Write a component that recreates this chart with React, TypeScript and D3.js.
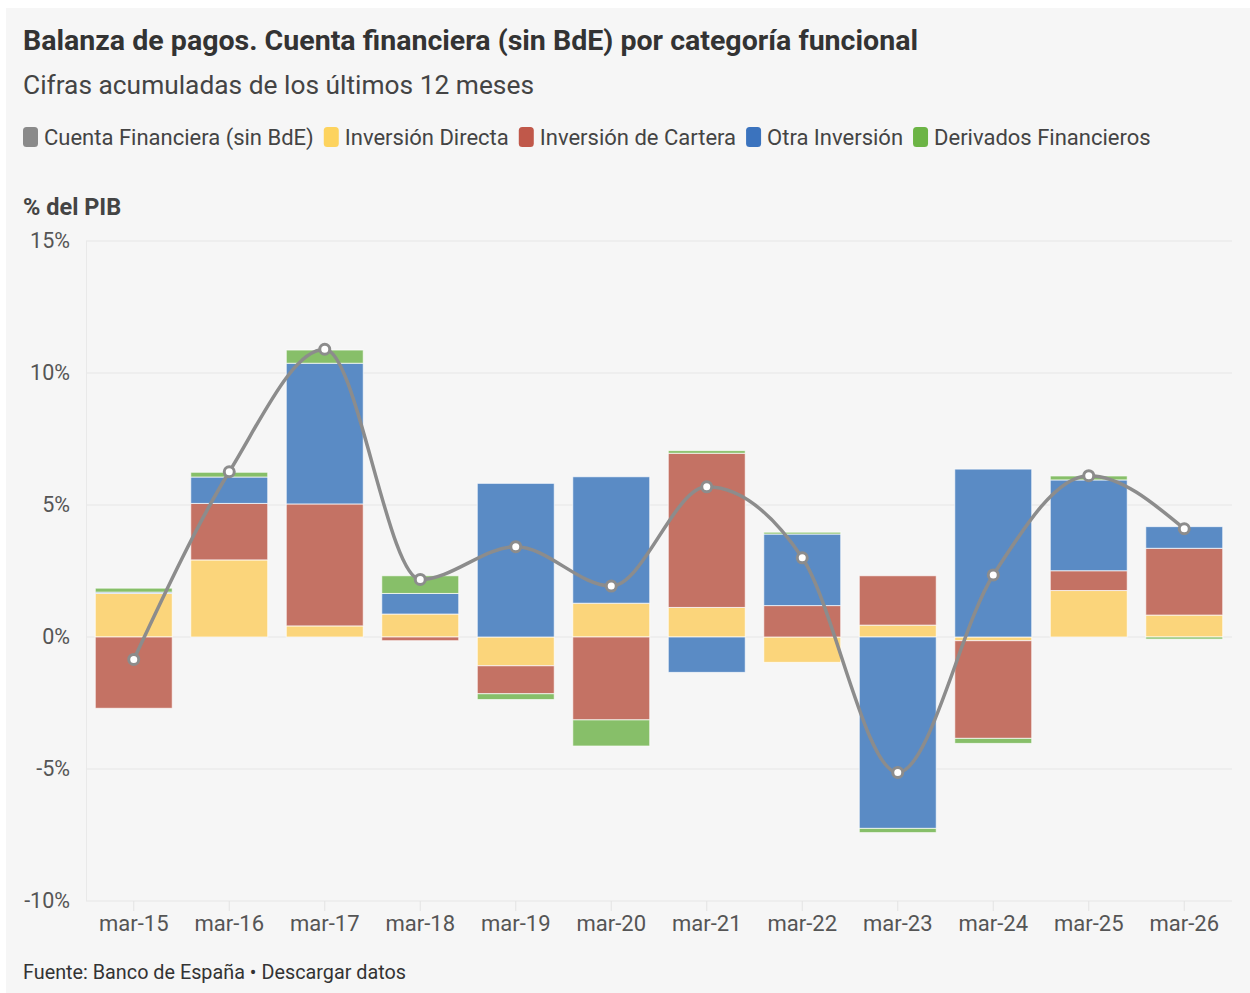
import React, { useEffect, useRef } from "react";
import * as d3 from "d3";

const categories = ["mar-15","mar-16","mar-17","mar-18","mar-19","mar-20","mar-21","mar-22","mar-23","mar-24","mar-25","mar-26"];
const seriesNames = ["Cuenta Financiera (sin BdE)","Inversión Directa","Inversión de Cartera","Otra Inversión","Derivados Financieros"];
const cuentaFinanciera = [-0.85, 6.26, 10.9, 2.18, 3.42, 1.93, 5.69, 3.0, -5.13, 2.35, 6.11, 4.10];
const inversionDirecta = [1.65, 2.92, 0.42, 0.87, -1.09, 1.28, 1.12, -0.96, 0.45, -0.14, 1.76, 0.83];
const inversionCartera = [-2.7, 2.14, 4.62, -0.14, -1.06, -3.14, 5.84, 1.19, 1.87, -3.70, 0.75, 2.53];
const otraInversion = [0.05, 1.0, 5.33, 0.78, 5.82, 4.79, -1.34, 2.71, -7.25, 6.36, 3.44, 0.82];
const derivados = [0.15, 0.18, 0.5, 0.67, -0.22, -0.99, 0.1, 0.07, -0.16, -0.19, 0.15, -0.08];
const yTicks = [-10, -5, 0, 5, 10, 15];

const legendColors = ["#8a8a8a", "#fdd35e", "#c0584a", "#3b73be", "#6cb445"];
const barColors = ["#fbd57b", "#c47264", "#5a8bc5", "#87bf69"];

export default function App() {
  const ref = useRef<SVGSVGElement | null>(null);
  useEffect(() => {
    const svg = d3.select(ref.current);
    svg.selectAll("*").remove();
    const font = "Roboto, 'Noto Sans', sans-serif";
    svg.append("rect").attr("x", 6).attr("y", 8).attr("width", 1244).attr("height", 985).attr("fill", "#f6f6f6");

    const fit = (t: any, w: number) => {
      const n = t.node() as SVGTextElement;
      const cur = n.getComputedTextLength();
      if (cur > 0) t.attr("textLength", w).attr("lengthAdjust", "spacingAndGlyphs");
    };

    const title = svg.append("text").attr("x", 23).attr("y", 50).attr("font-family", font).attr("font-weight", 700)
      .attr("font-size", 27.5).attr("fill", "#333")
      .text("Balanza de pagos. Cuenta financiera (sin BdE) por categoría funcional");
    fit(title, 895);
    const sub = svg.append("text").attr("x", 23).attr("y", 94).attr("font-family", font)
      .attr("font-size", 25.5).attr("fill", "#444")
      .text("Cifras acumuladas de los últimos 12 meses");
    fit(sub, 511);

    // legend
    let lx = 23;
    seriesNames.forEach((name, i) => {
      svg.append("rect").attr("x", lx).attr("y", 127).attr("width", 15).attr("height", 20).attr("rx", 3.5)
        .attr("fill", legendColors[i]);
      const t = svg.append("text").attr("x", lx + 21).attr("y", 145).attr("font-family", font)
        .attr("font-size", 22).attr("fill", "#444").text(name);
      const w = (t.node() as SVGTextElement).getComputedTextLength();
      lx += 21 + w + 10;
    });

    svg.append("text").attr("x", 23).attr("y", 215).attr("font-family", font).attr("font-weight", 700)
      .attr("font-size", 23.5).attr("fill", "#444").text("% del PIB");

    const y = d3.scaleLinear().domain([-10, 15]).range([901, 241]);
    const x = d3.scaleBand().domain(categories).range([86, 1232]).paddingInner(0.194).paddingOuter(0.097);

    // grid
    svg.append("g").selectAll("line").data(yTicks).join("line")
      .attr("x1", 86).attr("x2", 1232).attr("y1", d => y(d)).attr("y2", d => y(d))
      .attr("stroke", "#e6e6e6").attr("stroke-width", 1);
    svg.append("line").attr("x1", 86.5).attr("x2", 86.5).attr("y1", y(15)).attr("y2", y(-10))
      .attr("stroke", "#e9e9e9");
    svg.append("g").selectAll("text").data(yTicks).join("text")
      .attr("x", 70).attr("y", d => y(d) + 7).attr("text-anchor", "end")
      .attr("font-family", font).attr("font-size", 21.5).attr("fill", "#555")
      .text(d => `${d}%`);

    // x ticks
    svg.append("g").selectAll("line").data(categories).join("line")
      .attr("x1", d => x(d)! + x.bandwidth() / 2).attr("x2", d => x(d)! + x.bandwidth() / 2)
      .attr("y1", 901).attr("y2", 911).attr("stroke", "#e3e3e3");
    svg.append("g").selectAll("text").data(categories).join("text")
      .attr("x", d => x(d)! + x.bandwidth() / 2).attr("y", 931).attr("text-anchor", "middle")
      .attr("font-family", font).attr("font-size", 22).attr("fill", "#555").text(d => d);

    // stacked bars
    const rows = categories.map((c, i) => ({
      cat: c, a: inversionDirecta[i], b: inversionCartera[i], c2: otraInversion[i], d: derivados[i]
    }));
    const keys = ["a", "b", "c2", "d"];
    const stack = d3.stack<any>().keys(keys).offset(d3.stackOffsetDiverging);
    const stacked = stack(rows);
    stacked.forEach((layer, li) => {
      svg.append("g").selectAll("rect").data(layer).join("rect")
        .attr("x", d => x(d.data.cat)!)
        .attr("width", x.bandwidth())
        .attr("y", d => y(Math.max(d[0], d[1])))
        .attr("height", d => Math.abs(y(d[0]) - y(d[1])))
        .attr("fill", barColors[li])
        .attr("stroke", "#ffffff").attr("stroke-width", 1).attr("stroke-opacity", 0.7);
    });

    // line
    const pts = categories.map((c, i) => [x(c)! + x.bandwidth() / 2, y(cuentaFinanciera[i])] as [number, number]);
    const line = d3.line().curve(d3.curveMonotoneX);
    svg.append("path").attr("d", line(pts)).attr("fill", "none").attr("stroke", "#8c8c8c").attr("stroke-width", 3.5);
    svg.append("g").selectAll("circle").data(pts).join("circle")
      .attr("cx", d => d[0]).attr("cy", d => d[1]).attr("r", 5)
      .attr("fill", "#ffffff").attr("stroke", "#8c8c8c").attr("stroke-width", 3);

    const foot = svg.append("text").attr("x", 23).attr("y", 979).attr("font-family", font)
      .attr("font-size", 19.5).attr("fill", "#333").text("Fuente: Banco de España • Descargar datos");
    fit(foot, 383);
  }, []);
  return (
    <svg ref={ref} width={1250} height={993}
      style={{ position: "absolute", left: 0, top: 0, display: "block", background: "#ffffff" }} />
  );
}
